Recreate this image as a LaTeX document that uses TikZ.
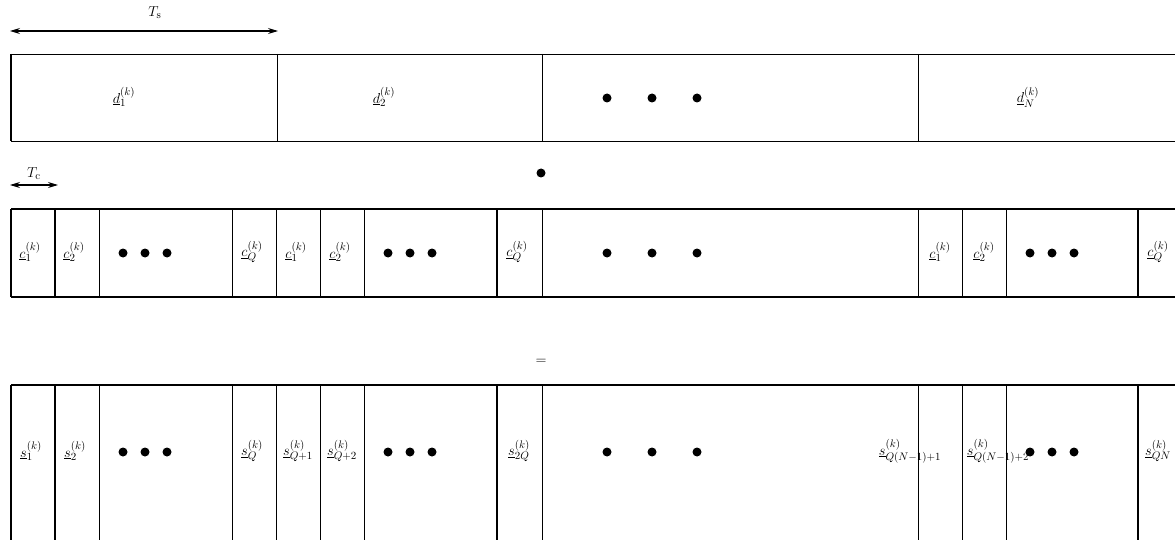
\documentclass[tikz,border=0pt]{standalone}
\usetikzlibrary{arrows.meta}
\begin{document}
\begin{tikzpicture}[x=1pt,y=-1pt,
  thin line/.style={line width=0.7pt},
  thick line/.style={line width=1.4pt},
  lab/.style={inner sep=0pt, font=\fontsize{15}{18}\selectfont},
  bigdot/.style={circle, fill=black, inner sep=0pt, minimum size=9pt},
  dim arrow/.style={line width=1.1pt, {Stealth[length=10pt,width=6pt]}-{Stealth[length=10pt,width=6pt]}}]
\useasboundingbox (0,0) rectangle (1175,540);
\clip (0,0) rectangle (1175,540);
% --- top arrow T_s
\coordinate (ts1) at (10,31);
\coordinate (ts2) at (278,31);
\draw[dim arrow] (ts1) -- (ts2);
\node[lab] (tslab) at (155,13) {$T_{\mathrm{s}}$};
% --- top row
\draw[thin line] (11,54) -- (1180,54);
\draw[thin line] (11,141) -- (1180,141);
\draw[thick line] (11,54) -- (11,141);
\foreach \x in {277,542,918} \draw[thin line] (\x,54) -- (\x,141);
\node[lab] (d1) at (124,97) {$\underline{d}_1^{(k)}$};
\node[lab] (d2) at (384,97) {$\underline{d}_2^{(k)}$};
\node[bigdot] (td1) at (607,98) {};
\node[bigdot] (td2) at (652,98) {};
\node[bigdot] (td3) at (697,98) {};
\node[lab] (dN) at (1028,97) {$\underline{d}_N^{(k)}$};
% --- T_c arrow
\coordinate (tc1) at (10,185);
\coordinate (tc2) at (58,185);
\draw[dim arrow] (tc1) -- (tc2);
\node[lab] (tclab) at (34,174) {$T_{\mathrm{c}}$};
\node[bigdot] (mid) at (541,173) {};
% --- middle row
\draw[thick line] (11,209) -- (1180,209);
\draw[thick line] (11,297) -- (1180,297);
\foreach \x in {11,55,497,1138} \draw[thick line] (\x,209) -- (\x,297);
\foreach \x in {99,232,276,320,364,542,918,962,1006} \draw[thin line] (\x,209) -- (\x,297);
\node[lab] (c1a) at (30,252) {$\underline{c}_1^{(k)}$};
\node[lab] (c2a) at (74,252) {$\underline{c}_2^{(k)}$};
\node[bigdot] (ca1) at (123,253) {};
\node[bigdot] (ca2) at (145,253) {};
\node[bigdot] (ca3) at (167,253) {};
\node[lab] (cQa) at (252,252) {$\underline{c}_Q^{(k)}$};
\node[lab] (c1b) at (296,252) {$\underline{c}_1^{(k)}$};
\node[lab] (c2b) at (340,252) {$\underline{c}_2^{(k)}$};
\node[bigdot] (cb1) at (388,253) {};
\node[bigdot] (cb2) at (410,253) {};
\node[bigdot] (cb3) at (432,253) {};
\node[lab] (cQb) at (517,252) {$\underline{c}_Q^{(k)}$};
\node[bigdot] (cc1) at (607,253) {};
\node[bigdot] (cc2) at (652,253) {};
\node[bigdot] (cc3) at (697,253) {};
\node[lab] (c1c) at (940,252) {$\underline{c}_1^{(k)}$};
\node[lab] (c2c) at (984,252) {$\underline{c}_2^{(k)}$};
\node[bigdot] (cd1) at (1030,253) {};
\node[bigdot] (cd2) at (1052,253) {};
\node[bigdot] (cd3) at (1074,253) {};
\node[lab] (cQc) at (1158,252) {$\underline{c}_Q^{(k)}$};
% --- equals
\node[lab] (eq) at (541,362) {$=$};
% --- bottom row
\draw[thick line] (11,385) -- (1180,385);
\foreach \x in {11,55,497,1138} \draw[thick line] (\x,385) -- (\x,545);
\foreach \x in {99,232,276,320,364,542,918,962,1006} \draw[thin line] (\x,385) -- (\x,545);
\node[lab] (s1) at (31,451) {$\underline{s}_1^{(k)}$};
\node[lab] (s2) at (75,451) {$\underline{s}_2^{(k)}$};
\node[bigdot] (sa1) at (123,452) {};
\node[bigdot] (sa2) at (145,452) {};
\node[bigdot] (sa3) at (167,452) {};
\node[lab] (sQ) at (252,451) {$\underline{s}_Q^{(k)}$};
\node[lab] (sQ1) at (298,451) {$\underline{s}_{Q+1}^{(k)}$};
\node[lab] (sQ2) at (342,451) {$\underline{s}_{Q+2}^{(k)}$};
\node[bigdot] (sb1) at (388,452) {};
\node[bigdot] (sb2) at (410,452) {};
\node[bigdot] (sb3) at (432,452) {};
\node[lab] (s2Q) at (519,451) {$\underline{s}_{2Q}^{(k)}$};
\node[bigdot] (sc1) at (607,452) {};
\node[bigdot] (sc2) at (652,452) {};
\node[bigdot] (sc3) at (697,452) {};
\node[lab] (sN1) at (910,451) {$\underline{s}_{Q(N-1)+1}^{(k)}$};
\node[lab] (sN2) at (998,451) {$\underline{s}_{Q(N-1)+2}^{(k)}$};
\node[bigdot] (sd1) at (1030,452) {};
\node[bigdot] (sd2) at (1052,452) {};
\node[bigdot] (sd3) at (1074,452) {};
\node[lab] (sQN) at (1158,451) {$\underline{s}_{QN}^{(k)}$};
\end{tikzpicture}
\end{document}
